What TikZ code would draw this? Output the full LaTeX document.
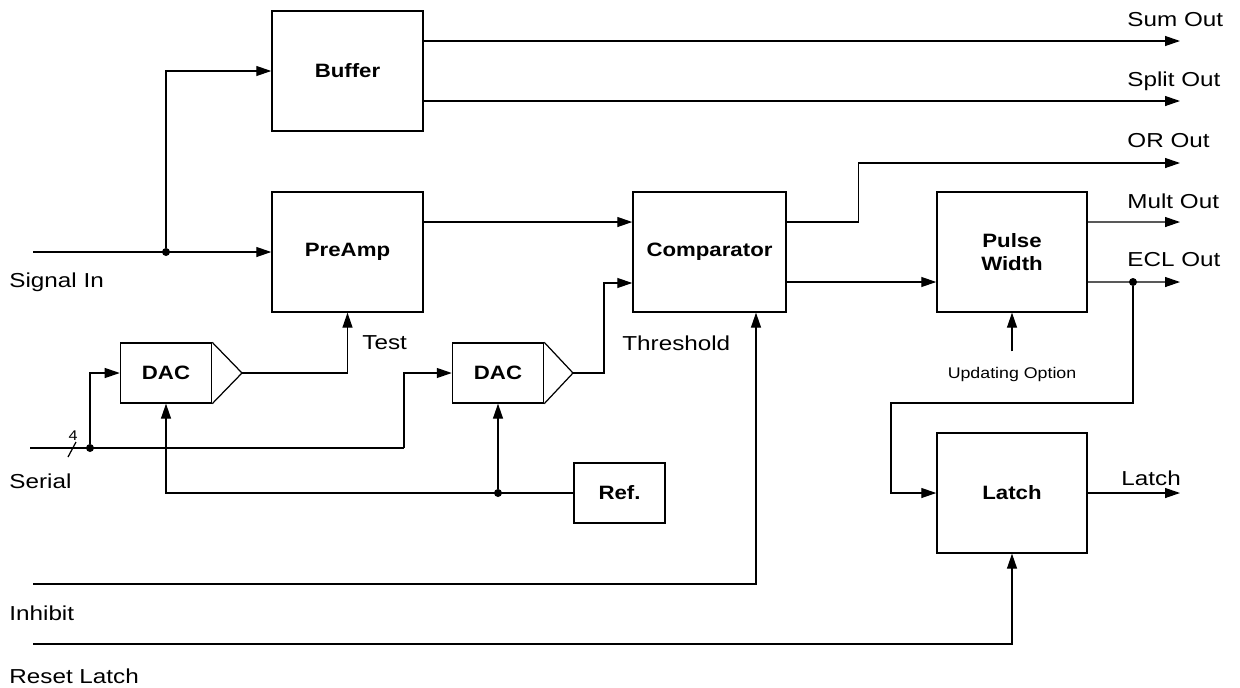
\documentclass[tikz,border=0pt]{standalone}
\usepackage{fontspec}
\setmainfont{Liberation Sans}
\usetikzlibrary{arrows.meta,positioning,calc}
\tikzset{
  blockbox/.style={draw, line width=0.75pt, fill=white, align=center,
    minimum width=#1, minimum height=2.4cm, inner sep=0pt,
    font=\fontsize{11}{13}\selectfont\bfseries, xscale=1.15, transform shape},
  blockbox/.default=2.626cm,
  smallbox/.style={blockbox=1.583cm, minimum height=1.2cm},
  sigline/.style={-{Triangle[length=3mm, width=2mm]}, line width=0.7pt},
  plainline/.style={line width=0.7pt},
  siglabel/.style={anchor=west, inner sep=0pt,
    font=\fontsize{11.5}{13}\selectfont, xscale=1.2, transform shape},
  smalllabel/.style={inner sep=0pt, font=\fontsize{8.8}{10}\selectfont,
    xscale=1.15, transform shape},
  jdot/.style={circle, fill, inner sep=0pt, minimum size=1.6mm},
}
\begin{document}
\begin{tikzpicture}[x=0.02cm, y=-0.02cm]
  \useasboundingbox (0,0) rectangle (1240,687);
  % blocks
  \node[blockbox] (buffer) at (347.5,71) {Buffer};
  \node[blockbox] (preamp) at (347.5,252) {PreAmp};
  \node[blockbox=2.661cm] (comp) at (709.5,252) {Comparator};
  \node[blockbox=2.609cm] (pw) at (1012,252) {Pulse\\Width};
  \node[blockbox=2.609cm] (latch) at (1012,493) {Latch};
  \node[smallbox] (dac1) at (166,373) {DAC};
  \node[smallbox] (dac2) at (498,373) {DAC};
  \node[smallbox] (ref) at (619.5,493) {Ref.};
  % DAC output stages
  \coordinate (dac1o) at (242,373);
  \coordinate (dac2o) at (573,373);
  \draw[plainline] (dac1.north east) -- (dac1o) -- (dac1.south east);
  \draw[plainline] (dac2.north east) -- (dac2o) -- (dac2.south east);
  % inputs and outputs
  \coordinate (sigin) at (33,252);
  \coordinate (ser) at (30,448);
  \coordinate (sbend) at (404,448);
  \coordinate (inh) at (33,584);
  \coordinate (rst) at (33,644);
  \coordinate (sumout) at (1180,41);
  \coordinate (splitout) at (1180,101);
  \coordinate (orout) at (1180,163);
  \coordinate (multout) at (1180,222);
  \coordinate (eclout) at (1180,282);
  \coordinate (latchout) at (1180,493);
  \coordinate (fb) at (891,403);
  \node[jdot] (j1) at (166,252) {};
  \node[jdot] (j2) at (90,448) {};
  \node[jdot] (j3) at (1133,282) {};
  \node[jdot] (j4) at (498,493) {};
  % labels
  \node[siglabel] (lsig) at (9,282) {Signal In};
  \node[siglabel] (lser) at (9,481) {Serial};
  \node[siglabel] (linh) at (9,613) {Inhibit};
  \node[siglabel] (lrst) at (9,676) {Reset Latch};
  \node[siglabel] (ltest) at (362,343) {Test};
  \node[siglabel] (lthr) at (622,343) {Threshold};
  \node[siglabel] (lsum) at (1127,20) {Sum Out};
  \node[siglabel] (lsplit) at (1127,81) {Split Out};
  \node[siglabel] (lor) at (1127,141) {OR Out};
  \node[siglabel] (lmult) at (1127,201) {Mult Out};
  \node[siglabel] (lecl) at (1127,260) {ECL Out};
  \node[siglabel] (llatch) at (1121,478) {Latch};
  \node[smalllabel] (upd) at (1012,374) {Updating Option};
  \node[smalllabel, font=\fontsize{8}{9}\selectfont] (nbus) at (73,436) {4};
  % connectors
  \draw[sigline] (sigin) -- (preamp.west);
  \draw[sigline] (j1) |- (buffer.west);
  \draw[sigline] (buffer.east |- sumout) -- (sumout);
  \draw[sigline] (buffer.east |- splitout) -- (splitout);
  \draw[sigline] ([yshift=0.6cm]preamp.east) -- ([yshift=0.6cm]comp.west);
  \draw[sigline] (dac1o) -| (preamp.south);
  \draw[sigline] (dac2o) -- ++(31,0) |- ([yshift=-0.62cm]comp.west);
  \draw[sigline] ([yshift=0.6cm]comp.east) -- ++(72,0) |- (orout);
  \draw[sigline] ([yshift=-0.6cm]comp.east) -- ([yshift=-0.6cm]pw.west);
  \draw[sigline] ([yshift=0.6cm]pw.east) -- (multout);
  \draw[sigline] ([yshift=-0.6cm]pw.east) -- (eclout);
  \draw[sigline] (j3) |- (fb) |- (latch.west);
  \draw[sigline] (latch.east) -- (latchout);
  \draw[sigline] ([yshift=0.3cm]upd.north) -- (pw.south);
  \draw[plainline] (ser) -- (sbend);
  \draw[sigline] (sbend) |- (dac2.west);
  \draw[sigline] (j2) |- (dac1.west);
  \draw[plainline] (68,457) -- (76,442);
  \draw[sigline] (ref.west) -| (dac1.south);
  \draw[sigline] (j4) -- (dac2.south);
  \draw[sigline] (inh) -| ([xshift=0.93cm]comp.south);
  \draw[sigline] (rst) -| (latch.south);
\end{tikzpicture}
\end{document}
